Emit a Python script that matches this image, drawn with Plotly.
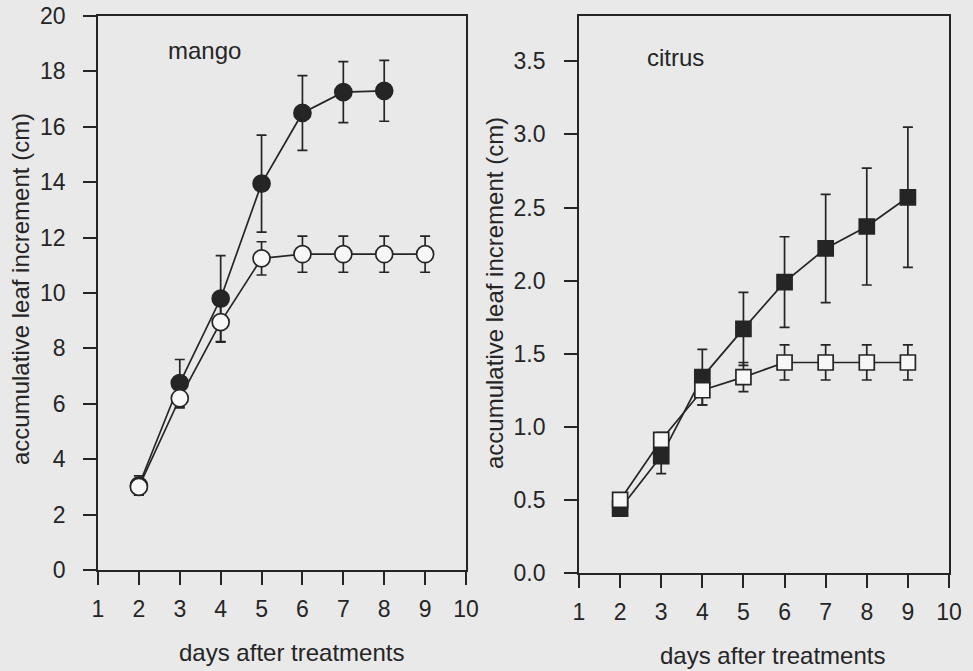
import plotly.graph_objects as go

# ---- data ----
days = [1, 2, 3, 4, 5, 6, 7, 8, 9, 10]

mango_x_filled = [2, 3, 4, 5, 6, 7, 8]
mango_y_filled = [3.05, 6.75, 9.8, 13.95, 16.5, 17.25, 17.3]
mango_e_filled = [0.35, 0.85, 1.55, 1.75, 1.35, 1.1, 1.1]

mango_x_open = [2, 3, 4, 5, 6, 7, 8, 9]
mango_y_open = [3.0, 6.2, 8.95, 11.25, 11.4, 11.4, 11.4, 11.4]
mango_e_open = [0.3, 0.35, 0.72, 0.6, 0.65, 0.65, 0.65, 0.65]

citrus_x_filled = [2, 3, 4, 5, 6, 7, 8, 9]
citrus_y_filled = [0.44, 0.80, 1.34, 1.67, 1.99, 2.22, 2.37, 2.57]
citrus_e_filled = [0.03, 0.12, 0.19, 0.25, 0.31, 0.37, 0.40, 0.48]

citrus_x_open = [2, 3, 4, 5, 6, 7, 8, 9]
citrus_y_open = [0.50, 0.91, 1.25, 1.34, 1.44, 1.44, 1.44, 1.44]
citrus_e_open = [0.03, 0.05, 0.10, 0.10, 0.12, 0.12, 0.12, 0.12]

mango_yticks = [0, 2, 4, 6, 8, 10, 12, 14, 16, 18, 20]
citrus_yticks = [0.0, 0.5, 1.0, 1.5, 2.0, 2.5, 3.0, 3.5]

y_title = "accumulative leaf increment (cm)"
x_title = "days after treatments"

# ---- style ----
INK = "#252525"
BG = "#e9e9e9"
FONT = "Liberation Sans, Arial, sans-serif"
W, H = 973, 671
LW = 1.7


def err(arr):
    return dict(type="data", array=arr, visible=True, color=INK, thickness=LW, width=5)


fig = go.Figure()

# mango
fig.add_trace(go.Scatter(x=mango_x_filled, y=mango_y_filled, mode="lines+markers",
                         line=dict(color=INK, width=LW),
                         marker=dict(symbol="circle", size=17, color=INK, line=dict(color=INK, width=LW)),
                         error_y=err(mango_e_filled), xaxis="x", yaxis="y", showlegend=False))
fig.add_trace(go.Scatter(x=mango_x_open, y=mango_y_open, mode="lines+markers",
                         line=dict(color=INK, width=LW),
                         marker=dict(symbol="circle", size=17, color="#f7f7f7", line=dict(color=INK, width=LW)),
                         error_y=err(mango_e_open), xaxis="x", yaxis="y", showlegend=False))

# citrus
fig.add_trace(go.Scatter(x=citrus_x_filled, y=citrus_y_filled, mode="lines+markers",
                         line=dict(color=INK, width=LW),
                         marker=dict(symbol="square", size=15, color=INK, line=dict(color=INK, width=LW)),
                         error_y=err(citrus_e_filled), xaxis="x2", yaxis="y2", showlegend=False))
fig.add_trace(go.Scatter(x=citrus_x_open, y=citrus_y_open, mode="lines+markers",
                         line=dict(color=INK, width=LW),
                         marker=dict(symbol="square", size=15, color="#f7f7f7", line=dict(color=INK, width=LW)),
                         error_y=err(citrus_e_open), xaxis="x2", yaxis="y2", showlegend=False))


def px_x(p):
    return p / W


def px_y(p):
    return 1 - p / H


axis_common = dict(showline=True, linecolor=INK, linewidth=LW, mirror=True,
                   ticks="outside", ticklen=13, tickwidth=LW, tickcolor=INK,
                   showgrid=False, zeroline=False, automargin=False,
                   tickfont=dict(family=FONT, size=23, color=INK))

fig.update_layout(
    width=W, height=H,
    margin=dict(l=0, r=0, t=0, b=0),
    paper_bgcolor=BG, plot_bgcolor=BG,
    font=dict(family=FONT, color=INK),
    xaxis=dict(domain=[px_x(98), px_x(466)], range=[1, 10], tickvals=days,
               anchor="y", ticklabelstandoff=5, **axis_common),
    yaxis=dict(domain=[px_y(570), px_y(16)], range=[0, 20], tickvals=mango_yticks,
               anchor="x", ticklabelstandoff=13, **axis_common),
    xaxis2=dict(domain=[px_x(579), px_x(949)], range=[1, 10], tickvals=days,
                anchor="y2", ticklabelstandoff=5, **axis_common),
    yaxis2=dict(domain=[px_y(573), px_y(16)], range=[0, 3.81], tickvals=citrus_yticks,
                tickformat=".1f", anchor="x2", ticklabelstandoff=14, **axis_common),
)

ann_font = dict(family=FONT, size=24, color=INK)
fig.add_annotation(text="mango", x=px_x(204), y=px_y(50), xref="paper", yref="paper",
                   showarrow=False, font=ann_font, xanchor="center", yanchor="middle")
fig.add_annotation(text="citrus", x=px_x(675), y=px_y(57), xref="paper", yref="paper",
                   showarrow=False, font=ann_font, xanchor="center", yanchor="middle")
fig.add_annotation(text=y_title, x=px_x(20), y=px_y(289), xref="paper", yref="paper",
                   showarrow=False, font=ann_font, textangle=-90, xanchor="center", yanchor="middle")
fig.add_annotation(text=y_title, x=px_x(495), y=px_y(293), xref="paper", yref="paper",
                   showarrow=False, font=ann_font, textangle=-90, xanchor="center", yanchor="middle")
fig.add_annotation(text=x_title, x=px_x(291), y=px_y(652), xref="paper", yref="paper",
                   showarrow=False, font=ann_font, xanchor="center", yanchor="middle")
fig.add_annotation(text=x_title, x=px_x(772), y=px_y(655), xref="paper", yref="paper",
                   showarrow=False, font=ann_font, xanchor="center", yanchor="middle")

fig.write_html("out.html")
